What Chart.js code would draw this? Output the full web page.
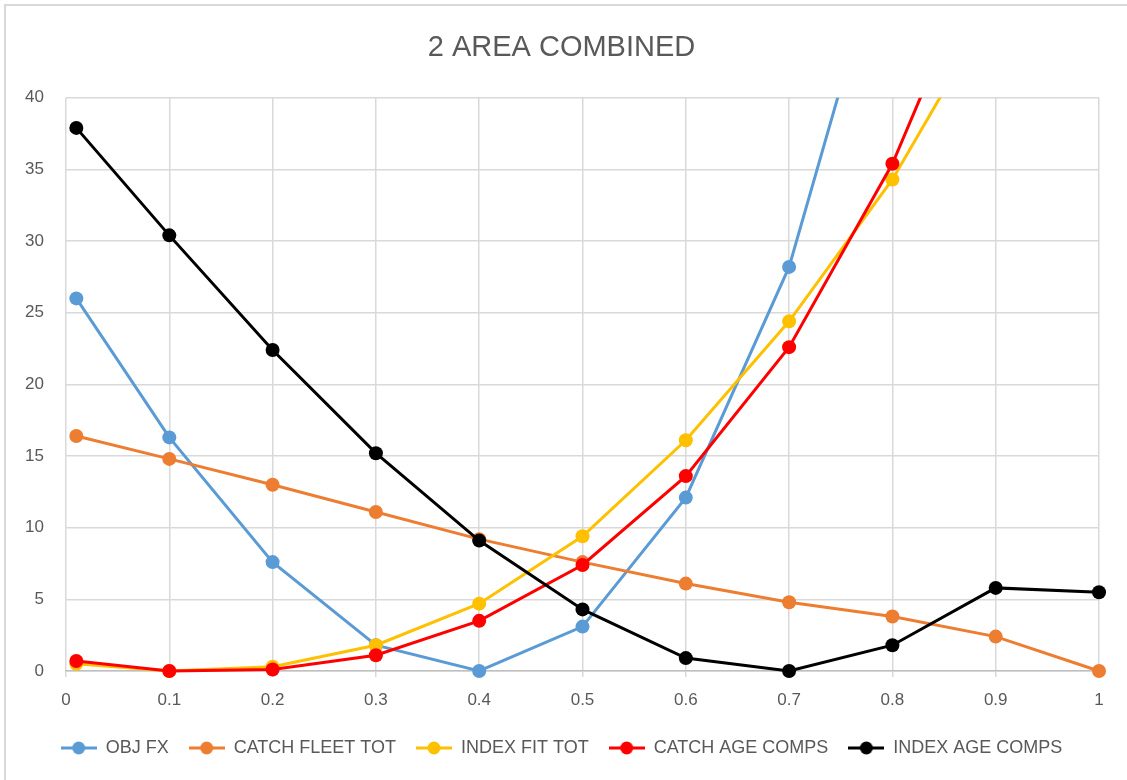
<!DOCTYPE html>
<html>
<head>
<meta charset="utf-8">
<title>2 AREA COMBINED</title>
<script src="https://cdn.jsdelivr.net/npm/chart.js@4/dist/chart.umd.min.js"></script>
<style>
  html, body { margin: 0; padding: 0; background: #fff; }
  #wrap { width: 1127px; height: 780px; }
</style>
</head>
<body>
<div id="wrap"><canvas id="chart" width="1127" height="780"></canvas></div>
<script>
// x positions of the runs
const xValues = [0.01, 0.1, 0.2, 0.3, 0.4, 0.5, 0.6, 0.7, 0.8, 0.9, 1.0];

// series values (points above 40 run off the top)
const objFx = [26.0, 16.3, 7.6, 1.8, 0.0, 3.1, 12.1, 28.2, 53.3];
const catchFleetTot = [16.4, 14.8, 13.0, 11.1, 9.2, 7.6, 6.1, 4.8, 3.8, 2.4, 0.0];
const indexFitTot = [0.5, 0.0, 0.3, 1.8, 4.7, 9.4, 16.1, 24.4, 34.3, 46.7];
const catchAgeComps = [0.7, 0.0, 0.1, 1.1, 3.5, 7.4, 13.6, 22.6, 35.4, 52.4];
const indexAgeComps = [37.9, 30.4, 22.4, 15.2, 9.1, 4.3, 0.9, 0.0, 1.8, 5.8, 5.5];

const seriesNames = ['OBJ FX', 'CATCH FLEET TOT', 'INDEX FIT TOT', 'CATCH AGE COMPS', 'INDEX AGE COMPS'];
const seriesColors = ['#5B9BD5', '#ED7D31', '#FFC000', '#FF0000', '#000000'];
const seriesValues = [objFx, catchFleetTot, indexFitTot, catchAgeComps, indexAgeComps];

const textColor = '#595959';
const fontFamily = "'Liberation Sans', Arial, sans-serif";

function toPoints(values) {
  return values.map((v, i) => ({ x: xValues[i], y: v }));
}

// legend marker: short line with a dot in the middle, like the Excel legend
function legendMarker(color) {
  const c = document.createElement('canvas');
  c.width = 36;
  c.height = 16;
  const g = c.getContext('2d');
  g.strokeStyle = color;
  g.lineWidth = 3;
  g.beginPath();
  g.moveTo(0, 8);
  g.lineTo(36, 8);
  g.stroke();
  g.fillStyle = color;
  g.beginPath();
  g.arc(18, 8, 6.5, 0, Math.PI * 2);
  g.fill();
  return c;
}

const datasets = seriesNames.map((name, i) => ({
  label: name,
  data: toPoints(seriesValues[i]),
  borderColor: seriesColors[i],
  backgroundColor: seriesColors[i],
  pointBackgroundColor: seriesColors[i],
  pointBorderColor: seriesColors[i],
  borderWidth: 3,
  pointRadius: 7,
  pointBorderWidth: 0,
  tension: 0,
  fill: false,
  showLine: true,
  order: seriesNames.length - i,
  clip: { left: 10, right: 10, top: 0, bottom: 10 }
}));

const frame = {
  id: 'frame',
  beforeDraw(chart) {
    const ctx = chart.ctx;
    ctx.save();
    ctx.fillStyle = '#fff';
    ctx.fillRect(0, 0, chart.width, chart.height);
    ctx.strokeStyle = '#D9D9D9';
    ctx.lineWidth = 2;
    ctx.strokeRect(5, 5, chart.width + 50, chart.height + 50);
    ctx.restore();
  }
};

new Chart(document.getElementById('chart'), {
  type: 'scatter',
  data: { datasets: datasets },
  plugins: [frame],
  options: {
    responsive: false,
    animation: false,
    layout: { padding: { left: 24, right: 28, top: 14, bottom: 13 } },
    plugins: {
      title: {
        display: true,
        text: '2 AREA COMBINED',
        color: textColor,
        font: { family: fontFamily, size: 29, weight: 'normal' },
        padding: { top: 17, bottom: 32 }
      },
      legend: {
        position: 'bottom',
        labels: {
          color: textColor,
          font: { family: fontFamily, size: 18 },
          usePointStyle: true,
          pointStyleWidth: 36,
          padding: 20,
          generateLabels(chart) {
            return chart.data.datasets.map((ds, i) => ({
              text: ds.label,
              fontColor: textColor,
              pointStyle: legendMarker(seriesColors[i]),
              datasetIndex: i,
              hidden: false,
              lineWidth: 0
            }));
          }
        }
      },
      tooltip: { enabled: false }
    },
    scales: {
      x: {
        type: 'linear',
        min: 0,
        max: 1,
        ticks: {
          stepSize: 0.1,
          color: textColor,
          font: { family: fontFamily, size: 17 },
          padding: 13,
          callback: (v) => String(Math.round(v * 10) / 10)
        },
        grid: { color: '#D9D9D9', lineWidth: 1.5, tickLength: 6, tickColor: '#D9D9D9' },
        border: { color: '#BFBFBF', width: 1.5 },
        afterFit(scale) { scale.height = 48; }
      },
      y: {
        min: 0,
        max: 40,
        ticks: {
          stepSize: 5,
          color: textColor,
          font: { family: fontFamily, size: 17 },
          padding: 22
        },
        grid: { color: '#D9D9D9', lineWidth: 1.5, drawTicks: false },
        border: { display: false },
        afterFit(scale) { scale.width = 42; }
      }
    }
  }
});
</script>
</body>
</html>
